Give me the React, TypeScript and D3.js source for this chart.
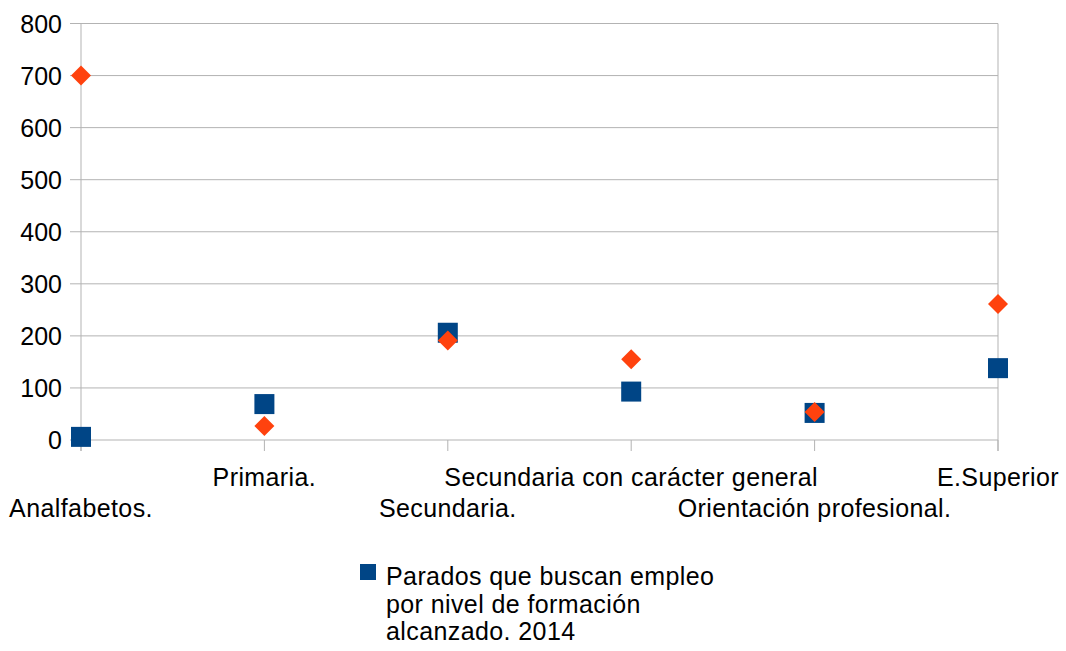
import React from "react";
import * as d3 from "d3";

const categories = [
  "Analfabetos.",
  "Primaria.",
  "Secundaria.",
  "Secundaria con carácter general",
  "Orientación profesional.",
  "E.Superior",
];
const paradosValues = [6, 69, 206, 93, 52, 138];
const otherValues = [700, 27, 191, 155, 54, 261];
const yTicks = [0, 100, 200, 300, 400, 500, 600, 700, 800];
const legendLines = ["Parados que buscan empleo", "por nivel de formación", "alcanzado. 2014"];

const W = 1066;
const H = 651;
const FONT = "'Liberation Sans', Arial, sans-serif";
const BLUE = "#004586";
const ORANGE = "#ff420e";
const GRID = "#b3b3b3";

export default function App() {
  const x = d3.scalePoint<string>().domain(categories).range([81, 998]).padding(0);
  const y = d3.scaleLinear().domain([0, 800]).range([440, 23.5]);
  const diamond = d3.symbol().type(d3.symbolSquare).size(200)();

  return (
    <svg width={W} height={H} style={{ position: "absolute", left: 0, top: 0, background: "#fff" }}>
      <rect width={W} height={H} fill="#fff" />
      {yTicks.map((t) => (
        <g key={t}>
          <line x1={70} x2={998} y1={y(t)} y2={y(t)} stroke={GRID} strokeWidth={1} />
          <text x={62} y={y(t)} dy="0.36em" textAnchor="end" fontFamily={FONT} fontSize={25} fill="#000">
            {t}
          </text>
        </g>
      ))}
      <line x1={81} x2={81} y1={y(800)} y2={451} stroke={GRID} strokeWidth={1} />
      <line x1={998} x2={998} y1={y(800)} y2={451} stroke={GRID} strokeWidth={1} />
      {categories.map((c) => (
        <line key={c} x1={x(c)} x2={x(c)} y1={440} y2={451} stroke={GRID} strokeWidth={1} />
      ))}
      {categories.map((c, i) => (
        <text
          key={c}
          x={x(c)}
          y={i % 2 === 0 ? 517 : 486}
          textAnchor="middle"
          fontFamily={FONT}
          fontSize={25}
          letterSpacing={0.4}
          fill="#000"
        >
          {c}
        </text>
      ))}
      {categories.map((c, i) => (
        <rect
          key={c}
          x={(x(c) as number) - 10}
          y={y(paradosValues[i]) - 10}
          width={20}
          height={20}
          fill={BLUE}
        />
      ))}
      {categories.map((c, i) => (
        <path
          key={c}
          d={diamond as string}
          transform={`translate(${x(c)},${y(otherValues[i])}) rotate(45)`}
          fill={ORANGE}
        />
      ))}
      <rect x={360} y={564} width={16} height={16} fill={BLUE} />
      {legendLines.map((l, i) => (
        <text key={l} x={386} y={585 + i * 27.5} fontFamily={FONT} fontSize={25} letterSpacing={0.4} fill="#000">
          {l}
        </text>
      ))}
    </svg>
  );
}
